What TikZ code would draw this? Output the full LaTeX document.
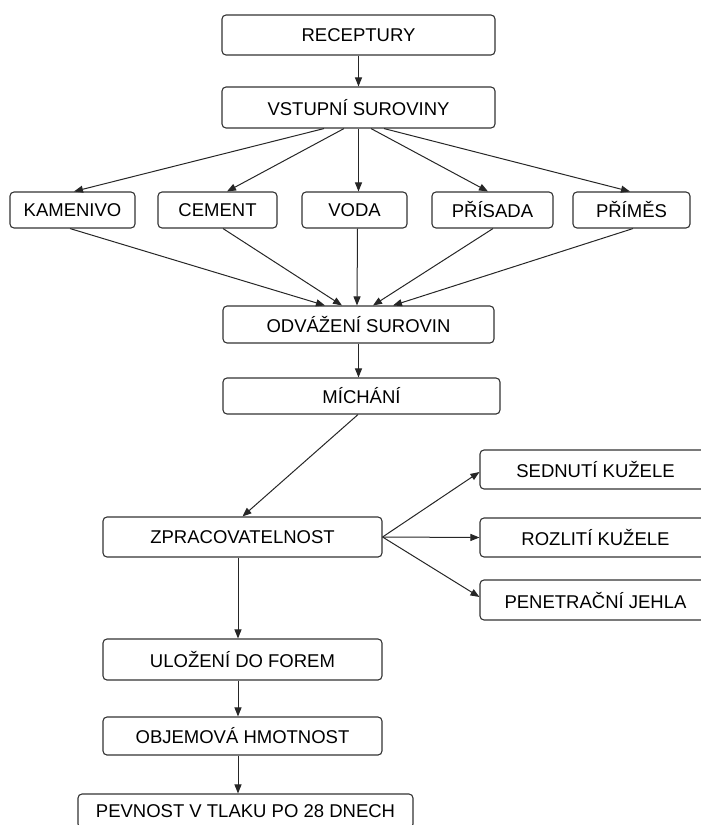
\documentclass[tikz,border=0pt]{standalone}
\usepackage{fontspec}
\setmainfont{Liberation Sans}
\usetikzlibrary{arrows.meta}
\begin{document}
\begin{tikzpicture}[x=1pt,y=-1pt,
  box/.style={draw=black!80, line width=1.1pt, rounded corners=4pt, inner sep=0pt,
    font=\fontsize{18.5}{20}\selectfont, text=black},
  arr/.style={draw=black!85, line width=1pt, -{Triangle[length=9pt,width=7pt]}}]
\useasboundingbox (0,0) rectangle (701,825);
\clip (0,0) rectangle (701,825);
\node[box, minimum width=273pt, minimum height=40pt] (rec) at (358.5,35) {RECEPTURY};
\node[box, minimum width=273pt, minimum height=41pt] (vst) at (358.5,107.5) {VSTUPNÍ SUROVINY};
\node[box, minimum width=125pt, minimum height=36pt] (kam) at (72.5,210) {KAMENIVO};
\node[box, minimum width=119pt, minimum height=36pt] (cem) at (217.5,210) {CEMENT};
\node[box, minimum width=105pt, minimum height=36pt] (vod) at (354.5,210) {VODA};
\node[box, minimum width=121pt, minimum height=36pt] (pri) at (492.5,210) {PŘÍSADA};
\node[box, minimum width=117pt, minimum height=36pt] (prm) at (631.5,210) {PŘÍMĚS};
\node[box, minimum width=271pt, minimum height=37pt] (odv) at (358.5,324.5) {ODVÁŽENÍ SUROVIN};
\node[box, minimum width=277pt, minimum height=36pt] (mic) at (361.5,396) {MÍCHÁNÍ};
\node[box, minimum width=279pt, minimum height=40pt] (zpr) at (242.5,537) {ZPRACOVATELNOST};
\node[box, minimum width=231pt, minimum height=39pt] (sed) at (595.5,469.5) {SEDNUTÍ KUŽELE};
\node[box, minimum width=231pt, minimum height=39pt] (roz) at (595.5,537.5) {ROZLITÍ KUŽELE};
\node[box, minimum width=231pt, minimum height=40pt] (pen) at (595.5,600) {PENETRAČNÍ JEHLA};
\node[box, minimum width=279pt, minimum height=41pt] (ulo) at (242.5,659.5) {ULOŽENÍ DO FOREM};
\node[box, minimum width=279pt, minimum height=38pt] (obj) at (242.5,736) {OBJEMOVÁ HMOTNOST};
\node[box, minimum width=335pt, minimum height=34pt] (pev) at (245.5,811) {PEVNOST V TLAKU PO 28 DNECH};

\draw[arr] (rec.south) -- (vst.north);
\draw[arr] ([xshift=-34.5pt]vst.south) -- ([xshift=1.5pt]kam.north);
\draw[arr] ([xshift=-14.5pt]vst.south) -- ([xshift=9.5pt]cem.north);
\draw[arr] (vst.south) -- ([xshift=4pt]vod.north);
\draw[arr] ([xshift=12.5pt]vst.south) -- ([xshift=-4.5pt]pri.north);
\draw[arr] ([xshift=25.5pt]vst.south) -- ([xshift=-1.5pt]prm.north);

\draw[arr] ([xshift=-2.5pt]kam.south) -- ([xshift=-33.5pt]odv.north);
\draw[arr] ([xshift=5.5pt]cem.south) -- ([xshift=-16.5pt]odv.north);
\draw[arr] ([xshift=3pt]vod.south) -- ([xshift=-1.5pt]odv.north);
\draw[arr] ([xshift=0.5pt]pri.south) -- ([xshift=14.5pt]odv.north);
\draw[arr] ([xshift=1.5pt]prm.south) -- ([xshift=34.5pt]odv.north);

\draw[arr] (odv.south) -- ([xshift=-3pt]mic.north);
\draw[arr] ([xshift=-3.5pt]mic.south) -- (zpr.north);
\draw[arr] (zpr.east) -- ([yshift=-2.5pt]sed.west);
\draw[arr] (zpr.east) -- (roz.west);
\draw[arr] (zpr.east) -- ([yshift=3pt]pen.west);
\draw[arr] ([xshift=-4.5pt]zpr.south) -- ([xshift=-4.5pt]ulo.north);
\draw[arr] ([xshift=-4.5pt]ulo.south) -- ([xshift=-4.5pt]obj.north);
\draw[arr] ([xshift=-4.5pt]obj.south) -- ([xshift=-7.5pt]pev.north);
\end{tikzpicture}
\end{document}
